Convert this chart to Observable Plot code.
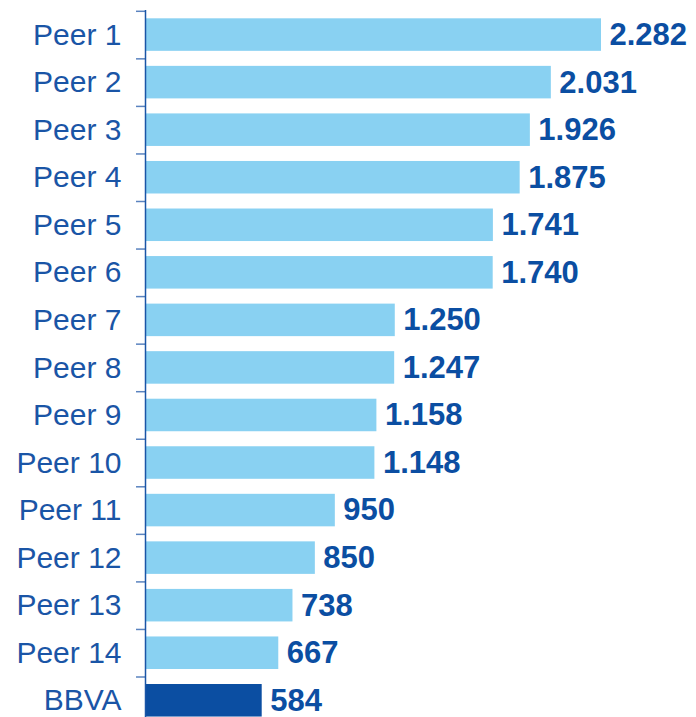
<!DOCTYPE html>
<html>
<head>
<meta charset="utf-8">
<script src="https://cdn.jsdelivr.net/npm/d3@7"></script>
<script src="https://cdn.jsdelivr.net/npm/@observablehq/plot@0.6"></script>
<style>
  html, body { margin: 0; padding: 0; background: #fff; }
  #chart svg { display: block; }
</style>
</head>
<body>
<div id="chart"></div>
<script>
const categories = ["Peer 1","Peer 2","Peer 3","Peer 4","Peer 5","Peer 6","Peer 7","Peer 8","Peer 9","Peer 10","Peer 11","Peer 12","Peer 13","Peer 14","BBVA"];
const values = [2282, 2031, 1926, 1875, 1741, 1740, 1250, 1247, 1158, 1148, 950, 850, 738, 667, 584];
const highlight = "BBVA";

const data = categories.map((c, i) => ({name: c, value: values[i]}));
const fmt = d3.formatLocale({decimal: ",", thousands: ".", grouping: [3], currency: ["", ""]}).format(",d");

const step = 47.55;
const top0 = 10.8;
const darkBlue = "#0b4ea2";
const lightBlue = "#89d1f2";
const textBlue = "#1a55a6";

const chart = Plot.plot({
  width: 696,
  height: 717,
  marginTop: 10,
  marginBottom: 0,
  marginLeft: 145,
  marginRight: 0,
  style: {fontFamily: "'Liberation Sans', Arial, sans-serif", background: "#fff"},
  x: {domain: [0, 2282], range: [145, 601], axis: null},
  y: {domain: categories, range: [top0, top0 + step * categories.length], paddingInner: 0.316, paddingOuter: 0.158, round: false, axis: null},
  marks: [
    Plot.barX(data, {x: "value", y: "name", fill: d => d.name === highlight ? darkBlue : lightBlue}),
    Plot.ruleY(categories, {y: d => d, x1: -45, x2: 0, dy: -step / 2, stroke: "#5a83bf", strokeWidth: 1.5}),
    Plot.ruleX([0], {stroke: textBlue, strokeWidth: 1.5}),
    Plot.axisY({tickSize: 0, tickPadding: 24, fontSize: 30, color: textBlue, label: null, style: {letterSpacing: "-0.5px"}}),
    Plot.text(data, {x: "value", y: "name", text: d => fmt(d.value), textAnchor: "start", dx: 8, fontSize: 31, fontWeight: "bold", fill: darkBlue})
  ]
});
document.getElementById("chart").appendChild(chart);
</script>
</body>
</html>
